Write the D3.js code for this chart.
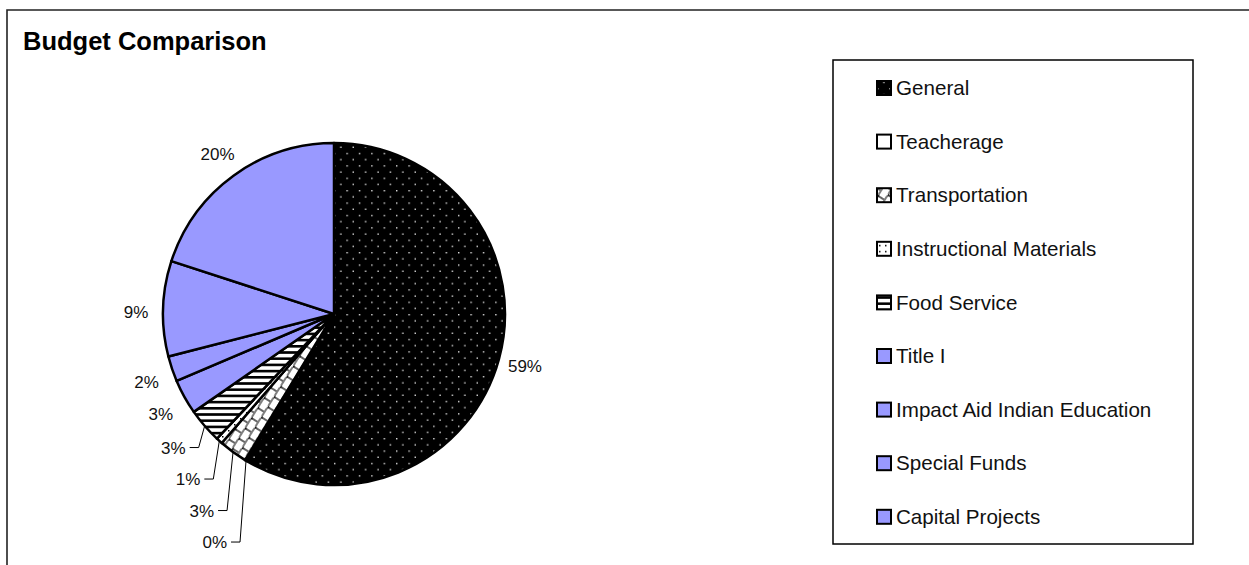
<!DOCTYPE html>
<html>
<head>
<meta charset="utf-8">
<script src="https://cdn.jsdelivr.net/npm/d3@7"></script>
<style>
    body { margin: 0; background: #fff; }
    svg { display: block; font-family: "Liberation Sans", Arial, sans-serif; }
</style>
</head>
<body>
<div id="chart"></div>
<script>
// budget shares (percent)
const categories = ["General", "Teacherage", "Transportation", "Instructional Materials",
    "Food Service", "Title I", "Impact Aid Indian Education", "Special Funds", "Capital Projects"];
const shares = [58.5, 0.2, 2.7, 0.6, 3.3, 3.3, 2.4, 9.0, 20.0];
const fills = ["url(#pat-dots)", "#ffffff", "url(#pat-shingle)", "url(#pat-sparse)",
    "url(#pat-hstripe)", "#9999ff", "#9999ff", "#9999ff", "#9999ff"];

const width = 1249;
const height = 565;
const cx = 334, cy = 314, radius = 171;
const labelRadius = radius + 27;
const labelGap = 31.5;

const svg = d3.select("#chart").append("svg")
    .attr("width", width)
    .attr("height", height);

// fill patterns
const defs = svg.append("defs");

const dots = defs.append("pattern")
    .attr("id", "pat-dots")
    .attr("patternUnits", "userSpaceOnUse")
    .attr("width", 12.4).attr("height", 12.4);
dots.append("rect").attr("width", 12.4).attr("height", 12.4).attr("fill", "#000");
dots.append("rect").attr("x", 0).attr("y", 0).attr("width", 1.4).attr("height", 1.4).attr("fill", "#ddd");
dots.append("rect").attr("x", 6.2).attr("y", 6.2).attr("width", 1.4).attr("height", 1.4).attr("fill", "#ddd");

const sparse = defs.append("pattern")
    .attr("id", "pat-sparse")
    .attr("patternUnits", "userSpaceOnUse")
    .attr("width", 6).attr("height", 6);
sparse.append("rect").attr("width", 6).attr("height", 6).attr("fill", "#fff");
sparse.append("rect").attr("x", 2).attr("y", 2).attr("width", 1.5).attr("height", 1.5).attr("fill", "#000");

const stripes = defs.append("pattern")
    .attr("id", "pat-hstripe")
    .attr("patternUnits", "userSpaceOnUse")
    .attr("width", 6.2).attr("height", 6.2);
stripes.append("rect").attr("width", 6.2).attr("height", 6.2).attr("fill", "#fff");
stripes.append("rect").attr("width", 6.2).attr("height", 2.6).attr("fill", "#000");

// shingle: rows of rounded bricks, every other row offset by half a brick
const shingle = defs.append("pattern")
    .attr("id", "pat-shingle")
    .attr("patternUnits", "userSpaceOnUse")
    .attr("width", 12).attr("height", 16)
    .attr("patternTransform", "rotate(-58)");
shingle.append("rect").attr("width", 12).attr("height", 16).attr("fill", "#fff");
shingle.append("path")
    .attr("d", "M0,8 V3 Q0,1 2,1 H10 Q12,1 12,3 V8 M6,16 V11 Q6,9 4,9 H0 M6,16 V11 Q6,9 8,9 H12")
    .attr("fill", "none")
    .attr("stroke", "#000")
    .attr("stroke-width", 1.2);

// outer frame (open at right and bottom)
svg.append("path")
    .attr("d", `M7,${height} V10 H${width}`)
    .attr("fill", "none")
    .attr("stroke", "#222")
    .attr("stroke-width", 1.6);

svg.append("text")
    .attr("x", 23)
    .attr("y", 50)
    .style("font-size", "25.5px")
    .style("font-weight", "bold")
    .text("Budget Comparison");

// pie
const pie = d3.pie().sort(null).value(d => d);
const arcs = pie(shares);
const arc = d3.arc().innerRadius(0).outerRadius(radius);

const g = svg.append("g").attr("transform", `translate(${cx},${cy})`);

g.selectAll(".slice")
    .data(arcs)
    .join("path")
    .attr("class", "slice")
    .attr("d", arc)
    .attr("fill", (d, i) => fills[i])
    .attr("stroke", "#000")
    .attr("stroke-width", 2.5)
    .attr("stroke-linejoin", "round");

// labels: radial, crowded ones near the bottom pushed down with leader lines
const total = d3.sum(shares);
const labels = arcs.map((d, i) => {
    const mid = (d.startAngle + d.endAngle) / 2;
    const deg = mid * 180 / Math.PI;
    return {
        text: Math.round(d.value / total * 100) + "%",
        mid: mid,
        leader: deg > 180 && deg < 235,
        ax: radius * Math.sin(mid),
        ay: -radius * Math.cos(mid),
        x: labelRadius * Math.sin(mid),
        y: -labelRadius * Math.cos(mid) + (mid > Math.PI && mid < 1.75 * Math.PI ? 4 : 0)
    };
});

// walk the left side from top to bottom (reverse slice order)
let prevY = null;
for (let i = labels.length - 1; i >= 0; i--) {
    const l = labels[i];
    if (l.mid <= Math.PI) continue;
    if (l.leader && prevY != null) {
        l.y = Math.max(l.y, prevY + labelGap);
    }
    if (l.leader) l.x = l.ax - 19;
    prevY = l.y;
}

g.selectAll(".leader")
    .data(labels.filter(d => d.leader))
    .join("polyline")
    .attr("class", "leader")
    .attr("points", d => `${d.x + 4},${d.y} ${d.x + 13},${d.y} ${d.ax},${d.ay}`)
    .attr("fill", "none")
    .attr("stroke", "#000")
    .attr("stroke-width", 1);

g.selectAll(".pct")
    .data(labels)
    .join("text")
    .attr("class", "pct")
    .attr("x", d => d.x)
    .attr("y", d => d.y)
    .attr("dy", "0.36em")
    .attr("text-anchor", d => d.leader ? "end" : "middle")
    .style("font-size", "17px")
    .style("fill", "#111")
    .text(d => d.text);

// legend
const legendX = 833, legendY = 60, legendW = 360, legendH = 484;
const rowStep = 53.6, firstRow = 88;

svg.append("rect")
    .attr("x", legendX).attr("y", legendY)
    .attr("width", legendW).attr("height", legendH)
    .attr("fill", "#fff")
    .attr("stroke", "#000")
    .attr("stroke-width", 1.5);

const legendItems = svg.selectAll(".legend-item")
    .data(categories)
    .join("g")
    .attr("class", "legend-item")
    .attr("transform", (d, i) => `translate(${legendX + 44},${firstRow + i * rowStep})`);

legendItems.append("rect")
    .attr("x", 0).attr("y", -7)
    .attr("width", 14).attr("height", 14)
    .attr("fill", (d, i) => fills[i])
    .attr("stroke", "#000")
    .attr("stroke-width", 2);

legendItems.append("text")
    .attr("x", 19)
    .attr("dy", "0.35em")
    .style("font-size", "20.6px")
    .style("fill", "#111")
    .text(d => d);
</script>
</body>
</html>
